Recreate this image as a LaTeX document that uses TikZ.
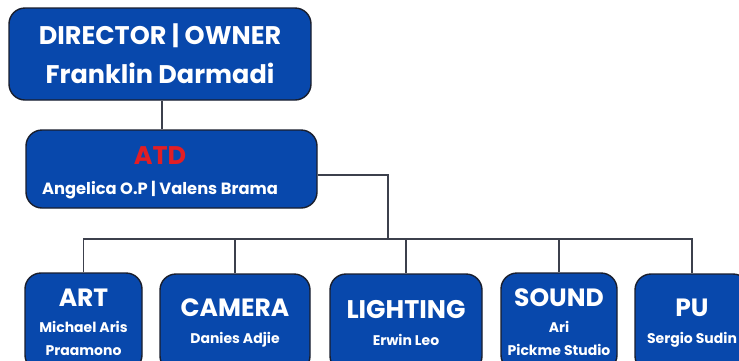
\documentclass[tikz,border=0pt]{standalone}
\usepackage{fontspec}
\setmainfont{Poppins}
\usepackage{tikz}

\definecolor{boxblue}{RGB}{8,72,172}
\definecolor{boxline}{RGB}{25,30,45}
\definecolor{atdred}{RGB}{226,30,36}

\begin{document}
\begin{tikzpicture}[
    x=1pt, y=-1pt,
    team box/.style={draw=boxline, line width=1.4pt, fill=boxblue, rounded corners=16pt, text=white, align=center, inner sep=0pt},
    small lines/.style={font=\bfseries\fontsize{14}{23}\selectfont},
    link/.style={draw=boxline!85, line width=1.3pt}
]
    \clip (0,0) rectangle (739,360);
    \fill[white] (0,0) rectangle (739,360);

    \node[team box, minimum width=302, minimum height=92, font=\bfseries\fontsize{25.5}{39}\selectfont] (dir) at (160,54)
        {DIRECTOR | OWNER\\Franklin Darmadi};

    \node[team box, minimum width=291, minimum height=78] (atd) at (171.5,169) {};
    \node[text=white, align=center, inner sep=0pt, font=\bfseries\fontsize{16.3}{24}\selectfont] (atdtext) at (160,173)
        {{\fontsize{25.5}{30}\selectfont\textcolor{atdred}{ATD}}\\[6.5pt]Angelica O.P | Valens Brama};

    \def\H{98}
    \node[team box, small lines, minimum width=117, minimum height=\H] (art) at (83.5,322)
        {{\fontsize{25}{30}\selectfont ART}\\[3pt]Michael Aris\\Praamono};
    \node[team box, small lines, minimum width=150, minimum height=\H] (camera) at (235,323)
        {{\fontsize{25}{30}\selectfont CAMERA}\\[3.5pt]Danies Adjie};
    \node[team box, small lines, minimum width=152, minimum height=\H] (lighting) at (406,323)
        {{\fontsize{25.5}{30}\selectfont LIGHTING}\\[3.5pt]Erwin Leo};
    \node[team box, small lines, minimum width=116, minimum height=\H] (sound) at (559,322)
        {{\fontsize{25}{30}\selectfont SOUND}\\[3pt]Ari\\Pickme Studio};
    \node[team box, small lines, minimum width=114, minimum height=\H] (pu) at (692,323)
        {{\fontsize{25}{30}\selectfont PU}\\[3.5pt]Sergio Sudin};

    \coordinate (busjoin) at (388,239);

    \draw[link] ([xshift=2pt]dir.south) -- ([xshift=2pt]dir.south |- atd.north);
    \draw[link] ([yshift=-6pt]atd.east) -| (busjoin);
    \draw[link] (art.north) |- (pu.north |- busjoin) -- (pu.north);
    \draw[link] (camera.north) -- (camera.north |- busjoin);
    \draw[link] (lighting.north) -- (lighting.north |- busjoin);
    \draw[link] (sound.north) -- (sound.north |- busjoin);
\end{tikzpicture}
\end{document}
